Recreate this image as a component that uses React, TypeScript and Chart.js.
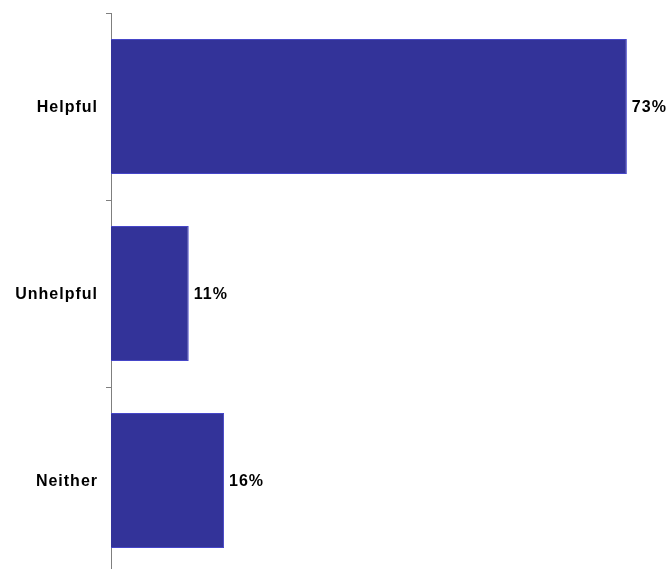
import React, { useEffect, useRef } from "react";
import { Chart, registerables } from "chart.js";

Chart.register(...registerables);

const categories = ["Helpful", "Unhelpful", "Neither"];
const values = [73, 11, 16];
const valueLabels = ["73%", "11%", "16%"];

const FONT = "'Liberation Sans', Arial, sans-serif";

const spacingPlugin = {
  id: "spacing",
  beforeDraw(chart: any) {
    (chart.ctx as any).letterSpacing = "1px";
  },
};

const valueLabelPlugin = {
  id: "valueLabels",
  afterDatasetsDraw(chart: any) {
    const ctx = chart.ctx;
    const meta = chart.getDatasetMeta(0);
    ctx.save();
    (ctx as any).letterSpacing = "1px";
    ctx.font = `bold 16px ${FONT}`;
    ctx.fillStyle = "#000000";
    ctx.textAlign = "left";
    ctx.textBaseline = "middle";
    meta.data.forEach((bar: any, i: number) => {
      ctx.fillText(valueLabels[i], bar.x + 5, bar.y + 1);
    });
    ctx.restore();
  },
};

export default function App() {
  const ref = useRef<HTMLCanvasElement>(null);
  useEffect(() => {
    if (!ref.current) return;
    const chart = new Chart(ref.current, {
      type: "bar",
      data: {
        labels: categories,
        datasets: [
          {
            data: values,
            backgroundColor: "#333399",
            borderColor: "#4646c8",
            borderWidth: 1,
            barPercentage: 0.722,
            categoryPercentage: 1,
          },
        ],
      },
      options: {
        indexAxis: "y",
        animation: false,
        responsive: false,
        maintainAspectRatio: false,
        layout: { padding: { top: 13, right: 27, bottom: 0, left: 0 } },
        plugins: { legend: { display: false }, tooltip: { enabled: false } },
        scales: {
          x: { display: false, min: 0, max: 75 },
          y: {
            afterFit(scale: any) {
              scale.width = 111;
              scale.paddingTop = 0;
              scale.paddingBottom = 0;
            },
            grid: {
              drawOnChartArea: false,
              drawTicks: true,
              tickLength: 5,
              color: "#7f7f7f",
              offset: true,
            },
            border: { display: true, color: "#7f7f7f", width: 1 },
            ticks: {
              color: "#000000",
              padding: 8,
              labelOffset: 1,
              font: { family: FONT, size: 16, weight: "bold" },
            },
          },
        },
      },
      plugins: [spacingPlugin, valueLabelPlugin],
    } as any);
    return () => chart.destroy();
  }, []);
  return (
    <div
      style={{
        position: "fixed",
        left: 0,
        top: 0,
        width: 668,
        height: 569,
        overflow: "hidden",
        background: "#ffffff",
      }}
    >
      <canvas ref={ref} width={668} height={574} style={{ display: "block" }} />
    </div>
  );
}
